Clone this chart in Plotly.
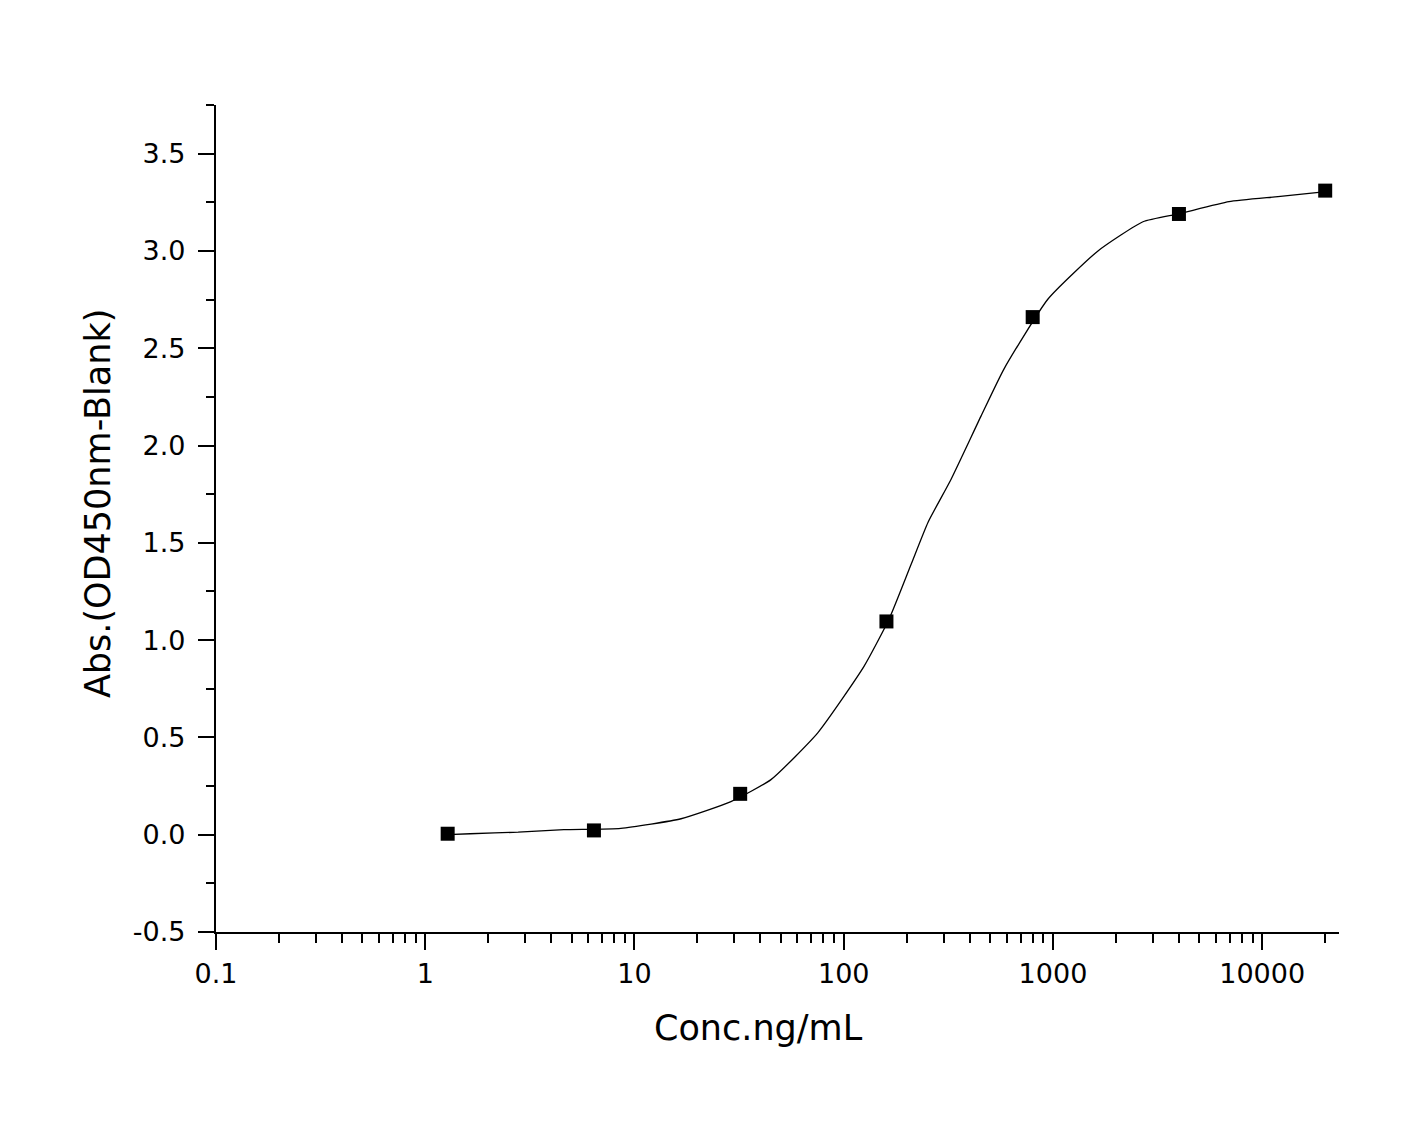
import plotly.graph_objects as go

# measured standards (ng/mL vs OD450 - blank)
conc = [1.28, 6.4, 32, 160, 800, 4000, 20000]
absorb = [0.005, 0.022, 0.21, 1.096, 2.66, 3.19, 3.31]

# fitted curve
fit_conc = [1.28, 1.64, 2.78, 4.6, 8.6, 16.7, 28.9, 44.9, 75.3, 125, 164.5,
            210, 253, 326, 453, 583, 947, 1641, 2693, 4002, 6936, 11890, 20170]
fit_abs = [0.0, 0.005, 0.013, 0.026, 0.033, 0.082, 0.17, 0.283, 0.525, 0.865, 1.107,
           1.39, 1.606, 1.827, 2.151, 2.393, 2.753, 3.0, 3.15, 3.191, 3.253, 3.279, 3.305]

x_ticks = [0.1, 1, 10, 100, 1000, 10000]
x_labels = ["0.1", "1", "10", "100", "1000", "10000"]
y_ticks = [-0.5, 0.0, 0.5, 1.0, 1.5, 2.0, 2.5, 3.0, 3.5]
y_labels = ["-0.5", "0.0", "0.5", "1.0", "1.5", "2.0", "2.5", "3.0", "3.5"]

x_minor = [m * 10 ** e for e in range(-1, 5) for m in range(2, 10)]

FONT = "DejaVu Sans, Liberation Sans, Arial, sans-serif"

fig = go.Figure()
fig.add_trace(go.Scatter(
    x=fit_conc, y=fit_abs, mode="lines",
    line=dict(color="black", width=1.3, shape="spline", smoothing=0.5),
    showlegend=False, hoverinfo="skip",
))
fig.add_trace(go.Scatter(
    x=conc, y=absorb, mode="markers",
    marker=dict(symbol="square", size=14, color="black"),
    showlegend=False,
))

tick_font = dict(family=FONT, size=27, color="black")
title_font = dict(family=FONT, size=35, color="black")

fig.update_layout(
    width=1406, height=1125,
    paper_bgcolor="white", plot_bgcolor="white",
    margin=dict(l=208, r=75, t=97, b=201),
    font=tick_font,
    annotations=[
        dict(text="Conc.ng/mL", xref="paper", yref="paper", x=0.4835, y=-0.116,
             xanchor="center", yanchor="middle", showarrow=False, font=title_font),
        dict(text="Abs.(OD450nm-Blank)", xref="paper", yref="paper", x=-0.105, y=0.5175,
             xanchor="center", yanchor="middle", textangle=-90, showarrow=False,
             font=title_font),
    ],
)
fig.update_xaxes(
    type="log", range=[-1, 4.367],
    showline=True, linecolor="black", linewidth=2.2,
    showgrid=False, zeroline=False,
    ticks="outside", ticklen=16, tickwidth=2, tickcolor="black",
    tickvals=x_ticks, ticktext=x_labels, ticklabelstandoff=0,
    tickfont=tick_font,
    minor=dict(ticks="outside", ticklen=9, tickwidth=2, tickcolor="black",
               tickvals=x_minor, showgrid=False),
)
fig.update_yaxes(
    range=[-0.5, 3.75],
    showline=True, linecolor="black", linewidth=2.2,
    showgrid=False, zeroline=False,
    ticks="outside", ticklen=16, tickwidth=2, tickcolor="black",
    tickvals=y_ticks, ticktext=y_labels, ticklabelstandoff=7,
    tickfont=tick_font,
    minor=dict(ticks="outside", ticklen=8, tickwidth=2, tickcolor="black",
               dtick=0.25, tick0=-0.5, showgrid=False),
)

fig.write_html("out.html")
